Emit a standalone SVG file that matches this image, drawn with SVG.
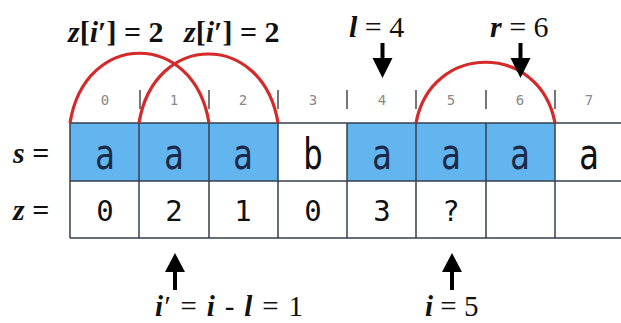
<svg xmlns="http://www.w3.org/2000/svg" width="621" height="323" viewBox="0 0 621 323">
<style>
.lbl{font-family:"Liberation Serif","Times New Roman",serif;fill:#111}
.v{font-weight:bold;font-style:italic}
.b{font-weight:bold}
.cell{font-family:"DejaVu Sans Mono","Liberation Mono",monospace;text-anchor:middle}
.let{font-size:33px;fill:#1c2a48}
.dig{font-size:29px;fill:#111}
.idx{font-family:"DejaVu Sans Mono","Liberation Mono",monospace;font-size:14px;fill:#888;text-anchor:middle}
.tick{stroke:#555;stroke-width:1.6}
.grid{stroke:#34404c;stroke-width:1.5;fill:none}
.arc{stroke:#d42a2a;stroke-width:3.2;fill:none}
.arr{fill:#000}
</style>
<rect width="621" height="323" fill="#fff"/>

<g id="table">
  <rect x="70" y="123" width="208" height="58" fill="#62b5ef"/>
  <rect x="347" y="123" width="208" height="58" fill="#62b5ef"/>
  <path class="grid" d="M70,123H621M70,181H621M70,238H621M70,123V238M139,123V238M209,123V238M278,123V238M347,123V238M416,123V238M486,123V238M555,123V238"/>
</g>

<g id="index">
  <text class="idx" x="105" y="105">0</text>
  <text class="idx" x="174" y="105">1</text>
  <text class="idx" x="243" y="105">2</text>
  <text class="idx" x="313" y="105">3</text>
  <text class="idx" x="382" y="105">4</text>
  <text class="idx" x="451" y="105">5</text>
  <text class="idx" x="520" y="105">6</text>
  <text class="idx" x="589" y="105">7</text>
  <path class="tick" d="M140,90V109M209,90V109M278,90V109M347,90V109M416,90V109M486,90V109M555,90V109"/>
</g>

<g id="s-row">
  <text class="lbl" x="13" y="163" font-size="30"><tspan class="v">s</tspan><tspan class="b"> =</tspan></text>
  <g transform="translate(0,169) scale(1,1.28)">
    <text class="cell let" x="105" y="0">a</text>
    <text class="cell let" x="174" y="0">a</text>
    <text class="cell let" x="243" y="0">a</text>
    <text class="cell let" x="313" y="0" style="fill:#111">b</text>
    <text class="cell let" x="382" y="0">a</text>
    <text class="cell let" x="451" y="0">a</text>
    <text class="cell let" x="520" y="0">a</text>
    <text class="cell let" x="589" y="0" style="fill:#111">a</text>
  </g>
</g>

<g id="z-row">
  <text class="lbl" x="13" y="220" font-size="30"><tspan class="v">z</tspan><tspan class="b"> =</tspan></text>
  <text class="cell dig" x="105" y="221">0</text>
  <text class="cell dig" x="174" y="221">2</text>
  <text class="cell dig" x="243" y="221">1</text>
  <text class="cell dig" x="313" y="221">0</text>
  <text class="cell dig" x="382" y="221">3</text>
  <text class="cell dig" x="451" y="221">?</text>
</g>

<g id="connectors">
  <path class="arc" d="M70,123C85,30 194,30 209,123"/>
  <path class="arc" d="M139,123C154,31 263,31 278,123"/>
  <path class="arc" d="M416,123C431,42 540,42 555,123"/>
  <path class="arr" d="M380.5,43h4v15h8l-10,20l-10,-20h8z"/>
  <path class="arr" d="M518.5,43h4v15h8l-10,20l-10,-20h8z"/>
  <path class="arr" d="M173,290h4v-18h8l-10,-19l-10,19h8z"/>
  <path class="arr" d="M450,290h4v-18h8l-10,-19l-10,19h8z"/>
</g>

<g id="labels">
  <text class="lbl b" x="68" y="42" font-size="30"><tspan class="v">z</tspan>[<tspan class="v">i</tspan>′] = 2</text>
  <text class="lbl b" x="184" y="42" font-size="30"><tspan class="v">z</tspan>[<tspan class="v">i</tspan>′] = 2</text>
  <text class="lbl" x="349" y="37" font-size="30"><tspan class="v">l</tspan> = 4</text>
  <text class="lbl" x="490" y="37" font-size="30"><tspan class="v">r</tspan> = 6</text>
  <text class="lbl" x="155" y="316" font-size="29" textLength="148" lengthAdjust="spacing"><tspan class="v">i</tspan>′ = <tspan class="v">i</tspan> - <tspan class="v">l</tspan> = 1</text>
  <text class="lbl" x="425" y="316" font-size="29"><tspan class="v">i</tspan> = 5</text>
</g>
</svg>
